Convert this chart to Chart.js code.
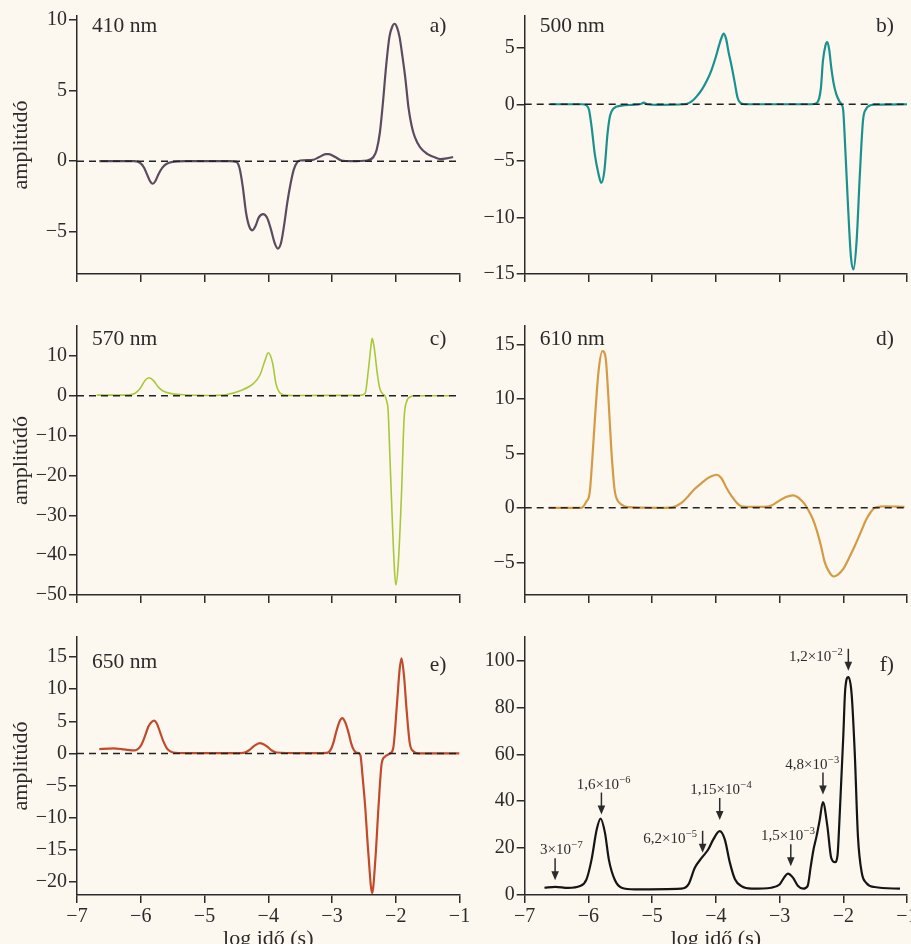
<!DOCTYPE html>
<html>
<head>
<meta charset="utf-8">
<script src="https://cdn.jsdelivr.net/npm/chart.js@4.4.1/dist/chart.umd.min.js"></script>
<style>
html, body { margin: 0; padding: 0; background: #fcf8f0; overflow: hidden; }
#wrap { position: relative; width: 911px; height: 944px; overflow: hidden; }
canvas { position: absolute; }
</style>
</head>
<body>
<div id="wrap"></div>
<script>
// log time (s) axis
const xTicks = [-7, -6, -5, -4, -3, -2, -1];

// a) 410 nm
const t410 = [-6.65,-6.3,-6.1,-6.0,-5.95,-5.9,-5.85,-5.81,-5.77,-5.72,-5.66,-5.6,-5.5,-5.3,-4.6,-4.5,-4.45,-4.4,-4.35,-4.3,-4.25,-4.2,-4.15,-4.08,-4.02,-3.96,-3.9,-3.85,-3.8,-3.75,-3.7,-3.65,-3.6,-3.55,-3.5,-3.3,-3.2,-3.1,-3.05,-2.95,-2.85,-2.7,-2.45,-2.35,-2.3,-2.25,-2.2,-2.15,-2.1,-2.05,-2.02,-1.98,-1.94,-1.9,-1.85,-1.8,-1.75,-1.7,-1.62,-1.5,-1.4,-1.3,-1.2,-1.1];
const a410 = [0,0,0,-0.15,-0.45,-0.95,-1.45,-1.6,-1.4,-0.9,-0.45,-0.2,-0.05,0,0,-0.05,-0.5,-1.8,-3.6,-4.6,-4.9,-4.6,-4.0,-3.75,-4.0,-4.8,-5.8,-6.2,-5.8,-4.5,-2.9,-1.6,-0.6,-0.1,0.05,0.1,0.3,0.5,0.5,0.3,0.05,0,0.05,0.3,0.8,2.0,4.2,6.8,8.8,9.6,9.75,9.5,8.8,7.6,5.9,3.8,2.5,1.7,1.0,0.5,0.3,0.15,0.2,0.3];
const ticks410 = [-5, 0, 5, 10];

// b) 500 nm
const t500 = [-6.6,-6.1,-6.03,-5.99,-5.95,-5.9,-5.84,-5.8,-5.75,-5.7,-5.66,-5.61,-5.48,-5.3,-5.18,-5.13,-5.08,-4.9,-4.5,-4.45,-4.38,-4.3,-4.22,-4.14,-4.07,-4.0,-3.95,-3.91,-3.88,-3.84,-3.8,-3.75,-3.7,-3.66,-3.62,-3.55,-2.5,-2.42,-2.38,-2.35,-2.32,-2.28,-2.25,-2.22,-2.19,-2.15,-2.11,-2.06,-2.03,-2.0,-1.98,-1.93,-1.88,-1.84,-1.79,-1.74,-1.69,-1.64,-1.6,-1.5,-1.0];
const a500 = [0,0,-0.1,-0.5,-2.0,-4.4,-6.2,-6.95,-5.9,-2.6,-1.0,-0.4,-0.12,-0.05,0.02,0.15,0,-0.05,0,0.05,0.25,0.7,1.3,2.1,3.0,4.2,5.2,5.9,6.25,5.8,4.6,3.3,1.8,0.6,0.15,0,0,0.1,0.5,1.5,3.8,5.2,5.5,4.8,3.3,1.8,0.9,0.25,0,-0.6,-2.6,-8.5,-13.5,-14.6,-12.0,-6.2,-1.4,-0.4,-0.15,-0.03,0];
const ticks500 = [-15, -10, -5, 0, 5];

// c) 570 nm
const t570 = [-6.69,-6.3,-6.12,-6.01,-5.93,-5.87,-5.8,-5.72,-5.65,-5.54,-5.33,-5.1,-4.97,-4.8,-4.65,-4.44,-4.23,-4.13,-4.05,-4.0,-3.93,-3.88,-3.81,-3.71,-3.5,-2.55,-2.48,-2.43,-2.39,-2.37,-2.34,-2.29,-2.25,-2.2,-2.17,-2.14,-2.12,-2.09,-2.05,-2.02,-2.0,-1.96,-1.91,-1.87,-1.83,-1.77,-1.7,-1.15];
const a570 = [0.15,0.15,0.4,1.8,3.9,4.5,3.8,2.1,1.2,0.6,0.25,0.08,0.05,0.1,0.3,1.25,3.1,5.2,8.9,10.8,8.1,3.1,0.6,0.1,0.05,0.1,0.6,6.4,12.3,14.4,12.3,5.6,1.8,0.4,0,-1.5,-3.6,-16,-33,-43.7,-47.5,-42,-24.7,-6,-1.5,-0.25,0,0];
const ticks570 = [-50, -40, -30, -20, -10, 0, 10];

// d) 610 nm
const t610 = [-6.63,-6.11,-6.03,-5.98,-5.94,-5.9,-5.84,-5.78,-5.73,-5.69,-5.64,-5.59,-5.56,-5.48,-5.37,-4.9,-4.69,-4.54,-4.43,-4.33,-4.22,-4.12,-4.05,-3.99,-3.91,-3.83,-3.75,-3.67,-3.6,-3.4,-3.18,-3.1,-3.02,-2.9,-2.79,-2.72,-2.66,-2.6,-2.55,-2.48,-2.42,-2.35,-2.29,-2.22,-2.15,-2.08,-2.0,-1.91,-1.82,-1.73,-1.64,-1.57,-1.51,-1.43,-1.35,-1.04];
const a610 = [0,0,0.6,1.4,4.4,8.0,12.6,14.4,13.8,10.5,5.3,1.7,0.9,0.3,0.06,0,0.05,0.45,1.1,1.75,2.3,2.75,2.95,3.04,2.7,1.8,1.06,0.45,0.15,0.1,0.12,0.3,0.6,1.0,1.15,1.0,0.7,0.3,-0.2,-1.0,-2.0,-3.5,-5.0,-5.9,-6.3,-6.1,-5.6,-4.6,-3.5,-2.3,-1.06,-0.4,0,0.1,0.15,0.1];
const ticks610 = [-5, 0, 5, 10, 15];

// e) 650 nm
const t650 = [-6.65,-6.5,-6.43,-6.3,-6.22,-6.09,-6.03,-5.99,-5.93,-5.88,-5.83,-5.79,-5.75,-5.7,-5.65,-5.59,-5.54,-5.49,-5.3,-4.5,-4.39,-4.3,-4.23,-4.13,-4.02,-3.95,-3.87,-3.5,-3.08,-3.02,-2.98,-2.93,-2.88,-2.84,-2.79,-2.74,-2.7,-2.66,-2.61,-2.57,-2.55,-2.52,-2.48,-2.43,-2.37,-2.32,-2.27,-2.22,-2.17,-2.09,-2.04,-1.98,-1.94,-1.91,-1.87,-1.83,-1.78,-1.72,-1.65,-1.0];
const a650 = [0.67,0.75,0.78,0.68,0.57,0.47,0.8,1.35,2.8,4.2,4.9,5.1,4.7,3.4,2.0,0.8,0.35,0.15,0.05,0.05,0.1,0.5,1.1,1.6,1.1,0.5,0.15,0.05,0.1,0.6,1.6,3.5,5.0,5.5,4.8,3.2,1.6,0.57,0.1,0,-0.5,-3.6,-8.2,-15.5,-21.7,-16.5,-8.2,-1.5,-0.5,0,0.8,7.8,13,14.8,12,6.8,1.6,0.3,0.02,0];
const ticks650 = [-20, -15, -10, -5, 0, 5, 10, 15];

// f) summed spectrum
const tSum = [-6.69,-6.52,-6.32,-6.13,-6.03,-5.95,-5.87,-5.81,-5.74,-5.68,-5.59,-5.48,-5.27,-4.54,-4.43,-4.33,-4.22,-4.12,-4.04,-3.94,-3.86,-3.78,-3.7,-3.6,-3.44,-3.13,-3.0,-2.92,-2.87,-2.79,-2.71,-2.63,-2.56,-2.51,-2.47,-2.42,-2.37,-2.32,-2.25,-2.19,-2.13,-2.09,-2.06,-2.0,-1.97,-1.92,-1.87,-1.82,-1.77,-1.71,-1.64,-1.51,-1.11];
const aSum = [3.1,3.5,3.0,3.8,6.7,15.2,27.9,32.6,26.5,15.2,6.7,3.1,2.4,2.7,4.5,11.6,15.9,19.4,23.7,27.2,23.7,13.8,6.7,3.8,2.7,3.1,4.5,7.8,9.1,7.4,3.8,2.7,3.8,12.3,19,25,32,39.6,29.4,15.9,14.0,17,32,67.7,87.5,92.9,86,60.6,25,9.5,5.2,3.4,2.7];
const ticksSum = [0, 20, 40, 60, 80, 100];

// time constants marked with arrows in f)
const arrowTimes = [3e-7, 1.6e-6, 6.2e-5, 1.15e-4, 1.5e-3, 4.8e-3, 1.2e-2];
const arrowMant = ['3×10', '1,6×10', '6,2×10', '1,15×10', '1,5×10', '4,8×10', '1,2×10'];
const arrowExp = ['\u22127', '\u22126', '\u22125', '\u22124', '\u22123', '\u22123', '\u22122'];
const arrowTip = [6.3, 34.3, 18, 32, 12.3, 42.8, 95.6];
const arrowSide = ['top', 'top', 'left', 'top', 'top', 'top', 'left'];
const labelShift = [6, 2, 0, 1, -3, -11, 0];   // small horizontal nudge of the label text (px)

const ink = '#2b2b2b';
const serif = '"Liberation Serif", "Times New Roman", serif';
const fmt = v => (v < 0 ? '\u2212' + Math.abs(v) : String(v));

const rows = [
    { top: 0,   h: 305, pad: 16, xh: 31, labels: false, dy: 16, dyTag: 16 },
    { top: 305, h: 310, pad: 21, xh: 20, labels: false, dy: 19, dyTag: 19 },
    { top: 615, h: 340, pad: 22, xh: 60, labels: true,  dy: 31, dyTag: 34 }
];
// right column canvas runs past the page edge so the last tick label is cut, not squeezed
const cols = [
    { left: 0,   w: 478, yw: 77,   padR: 18.5, title: true,  tagR: 13 },
    { left: 463, w: 464, yw: 61.7, padR: 20,   title: false, tagR: 13 }
];

const panels = [
    { t: t410, v: a410, yt: ticks410, min: -8,  max: 10.3, color: '#5b4b5f', wl: '410 nm', tag: 'a)', r: 0, c: 0 },
    { t: t500, v: a500, yt: ticks500, min: -15, max: 7.8,  color: '#19918f', wl: '500 nm', tag: 'b)', r: 0, c: 1 },
    { t: t570, v: a570, yt: ticks570, min: -50, max: 17.5, color: '#a8c83a', wl: '570 nm', tag: 'c)', r: 1, c: 0, lw: 1.6 },
    { t: t610, v: a610, yt: ticks610, min: -8,  max: 16.7, color: '#d49b44', wl: '610 nm', tag: 'd)', r: 1, c: 1 },
    { t: t650, v: a650, yt: ticks650, min: -22, max: 18.1, color: '#c24a2c', wl: '650 nm', tag: 'e)', r: 2, c: 0 },
    { t: tSum, v: aSum, yt: ticksSum, min: 0,   max: 110,  color: '#151515', wl: '',       tag: 'f)', r: 2, c: 1, noZero: true, arrows: true }
];

// wavelength + panel letter inside the plot
const panelText = {
    id: 'panelText',
    afterDraw(chart, args, o) {
        const { ctx, chartArea: a } = chart;
        ctx.save();
        ctx.fillStyle = ink;
        ctx.font = '21.5px ' + serif;
        ctx.textAlign = 'left';
        if (o.wl) ctx.fillText(o.wl, a.left + 15, a.top + o.dy);
        ctx.textAlign = 'right';
        ctx.fillText(o.tag, a.right - o.tagR, a.top + o.dyTag);
        ctx.restore();
    }
};

// arrows with time constants (panel f)
const arrowPlugin = {
    id: 'arrows',
    afterDatasetsDraw(chart) {
        const { ctx, scales: { x, y } } = chart;
        ctx.save();
        ctx.fillStyle = ink;
        ctx.strokeStyle = ink;
        ctx.lineWidth = 1.5;
        arrowTimes.forEach((tm, i) => {
            const px = x.getPixelForValue(Math.log10(tm));
            const tip = y.getPixelForValue(arrowTip[i]);
            const top = tip - 22;
            ctx.beginPath();
            ctx.moveTo(px, top);
            ctx.lineTo(px, tip - 7);
            ctx.stroke();
            ctx.beginPath();
            ctx.moveTo(px - 3.8, tip - 9);
            ctx.lineTo(px + 3.8, tip - 9);
            ctx.lineTo(px, tip);
            ctx.closePath();
            ctx.fill();

            ctx.font = '15px ' + serif;
            const wm = ctx.measureText(arrowMant[i]).width;
            ctx.font = '10.5px ' + serif;
            const we = ctx.measureText(arrowExp[i]).width;
            let lx, base;
            if (arrowSide[i] === 'top') {
                lx = px - (wm + we) / 2 + labelShift[i];
                base = top - 4;
            } else {
                lx = px - 6 - (wm + we) + labelShift[i];
                base = top + 12;
            }
            ctx.textAlign = 'left';
            ctx.font = '15px ' + serif;
            ctx.fillText(arrowMant[i], lx, base);
            ctx.font = '10.5px ' + serif;
            ctx.fillText(arrowExp[i], lx + wm + 0.5, base - 6);
        });
        ctx.restore();
    }
};

const wrap = document.getElementById('wrap');

panels.forEach(p => {
    const row = rows[p.r], col = cols[p.c];
    const cv = document.createElement('canvas');
    cv.width = col.w;
    cv.height = row.h;
    cv.style.left = col.left + 'px';
    cv.style.top = row.top + 'px';
    cv.style.width = col.w + 'px';
    cv.style.height = row.h + 'px';
    wrap.appendChild(cv);

    const datasets = [];
    if (!p.noZero) {
        datasets.push({
            data: [{ x: -7, y: 0 }, { x: -1, y: 0 }],
            borderColor: '#222',
            borderWidth: 1.5,
            borderDash: [7, 5],
            pointRadius: 0
        });
    }
    datasets.push({
        data: p.t.map((x, i) => ({ x: x, y: p.v[i] })),
        borderColor: p.color,
        borderWidth: p.lw || 2.2,
        pointRadius: 0,
        cubicInterpolationMode: 'monotone'
    });

    new Chart(cv.getContext('2d'), {
        type: 'line',
        data: { datasets: datasets },
        plugins: p.arrows ? [panelText, arrowPlugin] : [panelText],
        options: {
            responsive: false,
            animation: false,
            events: [],
            layout: { padding: { top: row.pad, right: col.padR, left: 0, bottom: 0 }, autoPadding: false },
            plugins: {
                legend: { display: false },
                tooltip: { enabled: false },
                panelText: { wl: p.wl, tag: p.tag, dy: row.dy, dyTag: row.dyTag, tagR: col.tagR }
            },
            scales: {
                x: {
                    type: 'linear',
                    min: -7,
                    max: -1,
                    afterBuildTicks: ax => { ax.ticks = xTicks.map(v => ({ value: v })); },
                    afterFit: ax => { ax.height = row.xh; },
                    grid: { drawOnChartArea: false, drawTicks: true, tickLength: 8, color: ink, lineWidth: 1.5 },
                    border: { color: ink, width: 1.5 },
                    ticks: { display: row.labels, padding: 2, color: ink, font: { family: serif, size: 20 }, callback: fmt, maxRotation: 0, autoSkip: false },
                    title: { display: row.labels, text: 'log idő (s)', color: ink, font: { family: serif, size: 22 }, padding: { top: 0, bottom: 3 } }
                },
                y: {
                    type: 'linear',
                    min: p.min,
                    max: p.max,
                    afterBuildTicks: ax => { ax.ticks = p.yt.map(v => ({ value: v })); },
                    afterFit: ax => { ax.width = col.yw; },
                    grid: { drawOnChartArea: false, drawTicks: true, tickLength: 8, color: ink, lineWidth: 1.5 },
                    border: { color: ink, width: 1.5 },
                    ticks: { padding: 2, color: ink, font: { family: serif, size: 20 }, callback: fmt, autoSkip: false },
                    title: { display: col.title, text: 'amplitúdó', color: ink, font: { family: serif, size: 22 }, padding: { top: 8, bottom: 0 } }
                }
            }
        }
    });
});
</script>
</body>
</html>
